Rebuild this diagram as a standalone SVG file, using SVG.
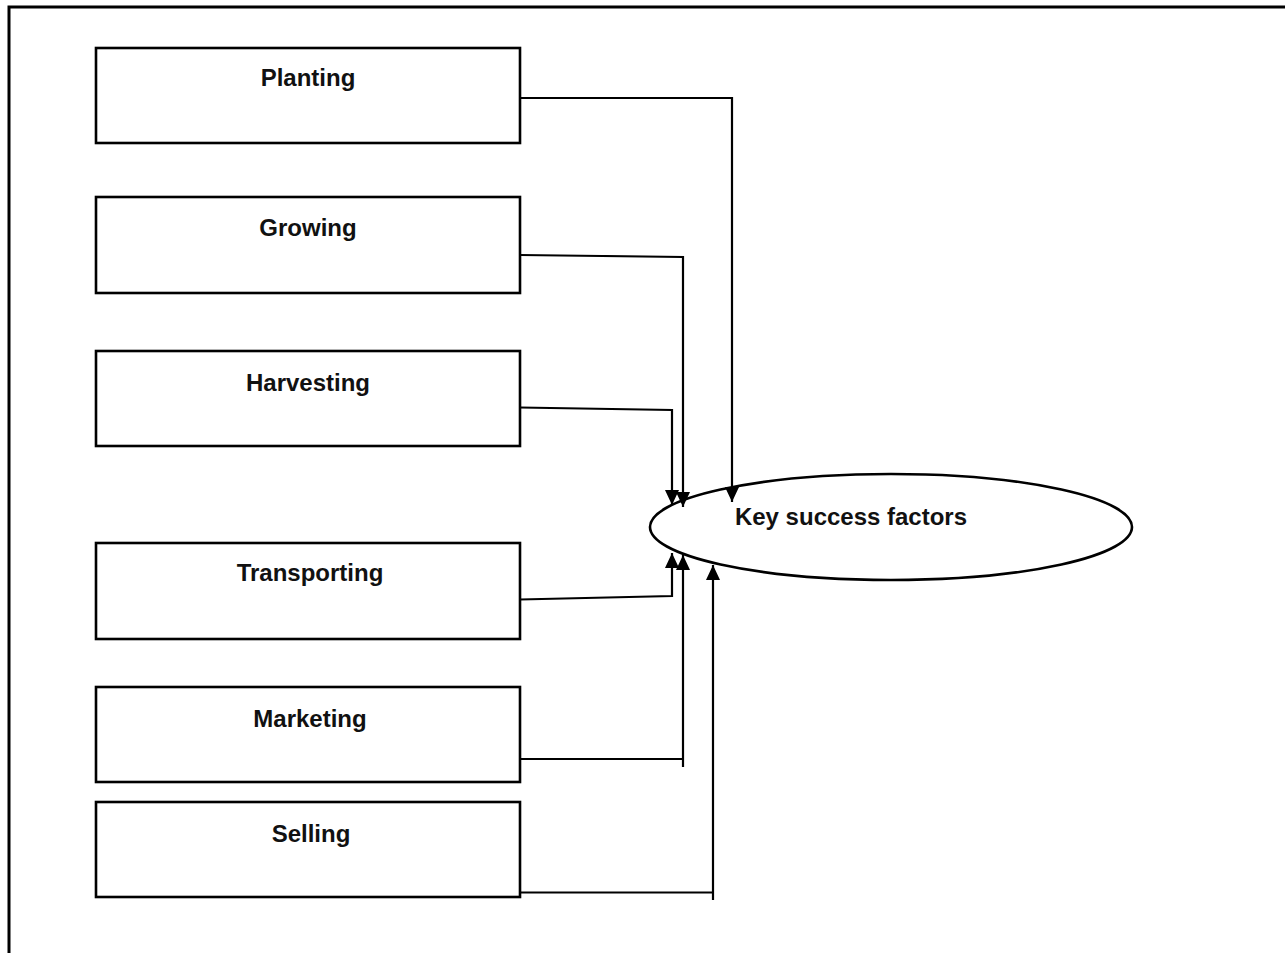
<svg xmlns="http://www.w3.org/2000/svg" width="1285" height="953" viewBox="0 0 1285 953">
<defs>
<style>
.box{fill:#fff;stroke:#000;stroke-width:2.6}
.lbl{font-family:"Liberation Sans",Arial,sans-serif;font-weight:bold;font-size:24px;fill:#111;text-anchor:middle}
.con{fill:none;stroke:#000;stroke-width:2.2}
.frame{fill:none;stroke:#000;stroke-width:3}
</style>
<marker id="ah" markerUnits="userSpaceOnUse" markerWidth="15" markerHeight="16" viewBox="0 0 15 16" refX="15" refY="8" orient="auto">
<path d="M0,1 L15,8 L0,15 Z" fill="#000"/>
</marker>
</defs>
<rect width="1285" height="953" fill="#fff"/>
<path class="frame" d="M9,953 V7 H1285"/>
<g id="planting"><rect class="box" x="96" y="48" width="424" height="95"/><text class="lbl" x="308" y="86">Planting</text></g>
<g id="growing"><rect class="box" x="96" y="197" width="424" height="96"/><text class="lbl" x="308" y="236">Growing</text></g>
<g id="harvesting"><rect class="box" x="96" y="351" width="424" height="95"/><text class="lbl" x="308" y="391">Harvesting</text></g>
<g id="transporting"><rect class="box" x="96" y="543" width="424" height="96"/><text class="lbl" x="310" y="581">Transporting</text></g>
<g id="marketing"><rect class="box" x="96" y="687" width="424" height="95"/><text class="lbl" x="310" y="727">Marketing</text></g>
<g id="selling"><rect class="box" x="96" y="802" width="424" height="95"/><text class="lbl" x="311" y="842">Selling</text></g>
<g id="ksf"><ellipse cx="891" cy="527" rx="241" ry="53" fill="#fff" stroke="#000" stroke-width="2.6"/><text class="lbl" x="851" y="525">Key success factors</text></g>
<g id="connectors">
<path class="con" d="M520,98 H732 V502" marker-end="url(#ah)"/>
<path class="con" d="M520,255 L683,257 V507" marker-end="url(#ah)"/>
<path class="con" d="M520,407.5 L672,410 V505" marker-end="url(#ah)"/>
<path class="con" d="M520,599.5 L672,596 V553" marker-end="url(#ah)"/>
<path class="con" d="M520,759 H683"/>
<path class="con" d="M683,767 V555" marker-end="url(#ah)"/>
<path class="con" d="M520,892.5 H713"/>
<path class="con" d="M713,900 V565" marker-end="url(#ah)"/>
</g>
</svg>
